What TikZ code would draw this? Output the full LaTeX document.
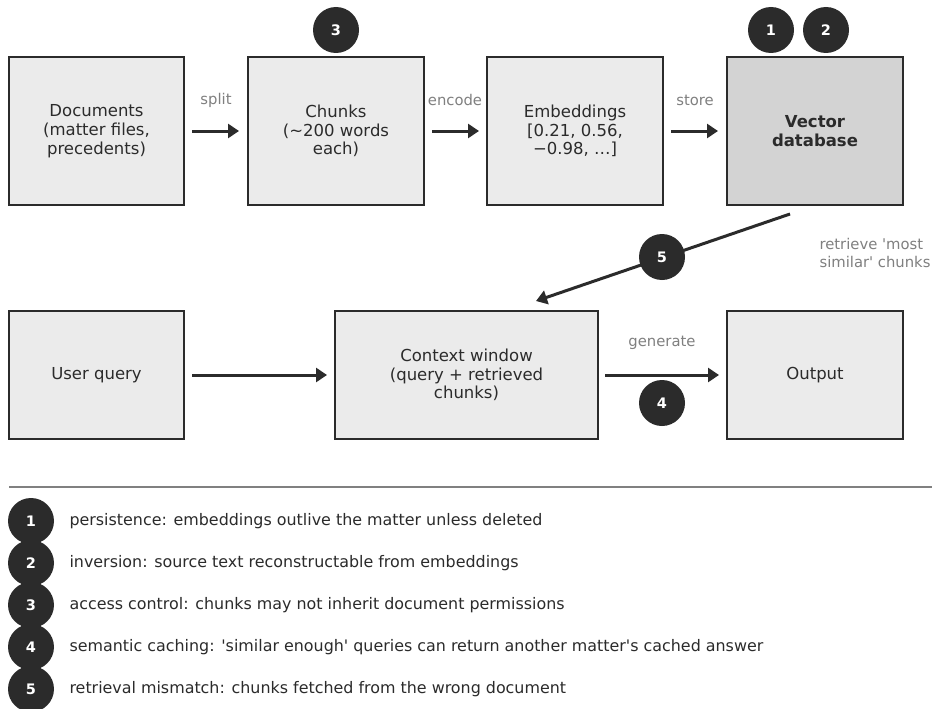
\documentclass[tikz,border=0pt]{standalone}
\usepackage{fontspec}
\setmainfont{DejaVu Sans}[Ligatures=TeXOff]
\usetikzlibrary{arrows.meta}
\newcommand{\aq}{\char"0027}
\definecolor{boxfill}{HTML}{EBEBEB}
\definecolor{dbfill}{HTML}{D3D3D3}
\definecolor{ink}{HTML}{2B2B2B}
\definecolor{lbl}{HTML}{808080}
\tikzset{
  box/.style={draw=ink, line width=2pt, fill=boxfill, text=ink, align=center, inner sep=0pt,
    font=\fontsize{16.5}{18.8}\selectfont},
  badge/.style={circle, fill=ink, text=white, minimum size=46pt, inner sep=0pt,
    font=\fontsize{14.5}{14.5}\selectfont\bfseries},
  flow/.style={draw=ink, line width=3pt, -{Triangle[length=11pt,width=14pt]}},
  elabel/.style={text=lbl, font=\fontsize{14.8}{17.5}\selectfont},
  legtext/.style={text=ink, anchor=west, font=\fontsize{15.9}{18}\selectfont}
}
\begin{document}
\begin{tikzpicture}[x=1pt,y=-1pt]
\useasboundingbox[fill=white] (0,0) rectangle (932,709);
% top row
\node[box, minimum width=175pt, minimum height=148pt] (docs) at (96.5,131) {Documents\\(matter files,\\precedents)};
\node[box, minimum width=176pt, minimum height=148pt] (chunks) at (336,131) {Chunks\\(\char"007E 200 words\\each)};
\node[box, minimum width=176pt, minimum height=148pt] (emb) at (575,131) {Embeddings\\{[}0.21, 0.56,\\\char"2212 0.98, \char"2026{]}};
\node[box, fill=dbfill, minimum width=176pt, minimum height=148pt, font=\fontsize{16.5}{18.8}\selectfont\bfseries] (vdb) at (815,131) {Vector\\database};
% bottom row
\node[box, minimum width=175pt, minimum height=128pt] (query) at (96.5,375) {User query};
\node[box, minimum width=263pt, minimum height=128pt] (ctx) at (466.5,375) {Context window\\(query + retrieved\\chunks)};
\node[box, minimum width=176pt, minimum height=128pt] (out) at (815,375) {Output};
% coordinates for arrows
\coordinate (s1) at (192,131); \coordinate (e1) at (239,131);
\coordinate (s2) at (432,131); \coordinate (e2) at (479,131);
\coordinate (s3) at (671,131); \coordinate (e3) at (718,131);
\coordinate (s4) at (192,375); \coordinate (e4) at (327,375);
\coordinate (s5) at (605,375); \coordinate (e5) at (719,375);
\coordinate (r1) at (790,214); \coordinate (r2) at (536,301);
\draw[flow] (s1) -- (e1);
\draw[flow] (s2) -- (e2);
\draw[flow] (s3) -- (e3);
\draw[flow] (s4) -- (e4);
\draw[flow] (s5) -- (e5);
\draw[flow] (r1) -- (r2);
% edge labels
\node[elabel] (lsplit) at (216,100) {split};
\node[elabel] (lenc) at (455,100) {encode};
\node[elabel] (lstore) at (695,100) {store};
\node[elabel] (lgen) at (662,343) {generate};
\node[elabel, anchor=west, align=left] (lret) at (816,253) {retrieve \aq most\\similar\aq{} chunks};
% badges
\node[badge] (b3) at (336,30) {3};
\node[badge] (b1) at (771,30) {1};
\node[badge] (b2) at (826,30) {2};
\node[badge] (b5) at (662,257) {5};
\node[badge] (b4) at (662,403) {4};
% separator
\coordinate (sepL) at (9,487); \coordinate (sepR) at (932,487);
\draw[draw=lbl, line width=1.5pt] (sepL) -- (sepR);
% legend
\node[badge] (l1) at (31,521) {1};
\node[badge] (l2) at (31,563) {2};
\node[badge] (l3) at (31,605) {3};
\node[badge] (l4) at (31,647) {4};
\node[badge] (l5) at (31,689) {5};
\node[legtext] (t1) at (66,521) {persistence: embeddings outlive the matter unless deleted};
\node[legtext] (t2) at (66,563) {inversion: source text reconstructable from embeddings};
\node[legtext] (t3) at (66,605) {access control: chunks may not inherit document permissions};
\node[legtext] (t4) at (66,647) {semantic caching: \aq similar enough\aq{} queries can return another matter\aq s cached answer};
\node[legtext] (t5) at (66,689) {retrieval mismatch: chunks fetched from the wrong document};
\end{tikzpicture}
\end{document}
